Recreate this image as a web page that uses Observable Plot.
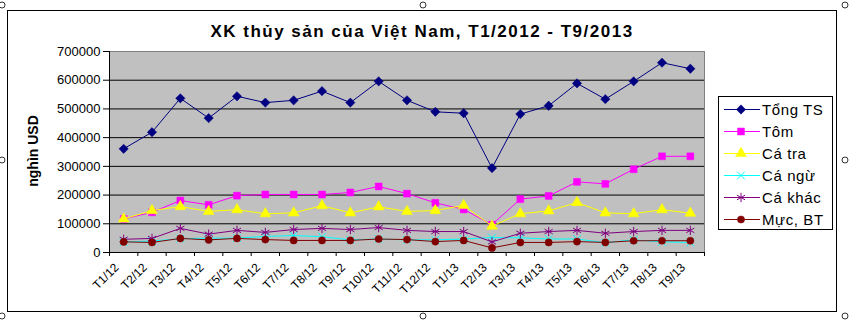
<!DOCTYPE html>
<html><head><meta charset="utf-8">
<script src="https://cdn.jsdelivr.net/npm/d3@7"></script>
<script src="https://cdn.jsdelivr.net/npm/@observablehq/plot@0.6"></script>
<style>
body{margin:0;background:#fff;}
#wrap{position:relative;width:863px;height:320px;overflow:hidden;font-family:Arial,"Liberation Sans",sans-serif;}
#wrap svg{position:absolute;left:0;top:0;}
</style></head><body><div id="wrap"></div>
<script>
const months = ["T1/12","T2/12","T3/12","T4/12","T5/12","T6/12","T7/12","T8/12","T9/12","T10/12","T11/12","T12/12",
  "T1/13","T2/13","T3/13","T4/13","T5/13","T6/13","T7/13","T8/13","T9/13"];
const yTicks = [0,100000,200000,300000,400000,500000,600000,700000];
const seriesNames = ["Tổng TS","Tôm","Cá tra","Cá ngừ","Cá khác","Mực, BT"];
const tongTS = [361000,419000,537000,468000,544000,522000,530000,562000,522000,596000,530000,490000,485000,294000,482000,511000,589000,534000,596000,661000,640000];
const tom    = [117000,140000,181000,166000,198000,202000,202000,202000,209000,230000,205000,173000,150000,97000,186000,197000,246000,239000,290000,335000,335000];
const caTra  = [117000,146000,160000,143000,149000,135000,138000,163000,138000,159000,143000,146000,164000,92000,135000,145000,174000,138000,135000,149000,137000];
const caNgu  = [36000,40000,48000,50000,50000,56000,59000,55000,44000,47000,44000,44000,47000,52000,51000,47000,47000,34000,44000,37000,35000];
const caKhac = [46000,49000,84000,64000,77000,70000,80000,84000,80000,87000,77000,73000,73000,37000,67000,73000,77000,67000,73000,77000,77000];
const mucBT  = [37000,35000,49000,44000,49000,45000,42000,42000,42000,47000,45000,38000,42000,16000,35000,35000,38000,35000,41000,41000,41000];
const title = "XK thủy sản của Việt Nam, T1/2012 - T9/2013";
const yLabel = "nghìn USD";

const styles = [
  {color:"#000080", symbol:"diamond2", fill:true, r:4.2},
  {color:"#FF00FF", symbol:"square", fill:true, r:3.9},
  {color:"#FFFF00", symbol:"triangle", fill:true, r:4.0},
  {color:"#00FFFF", symbol:"times", fill:false, r:3.6},
  {color:"#800080", symbol:"asterisk", fill:false, r:4.4},
  {color:"#800000", symbol:"circle", fill:true, r:3.6}
];
const values = [tongTS, tom, caTra, caNgu, caKhac, mucBT];
const series = seriesNames.map((name, k) => ({name, ...styles[k],
  data: values[k].map((v, i) => ({i, month: months[i], value: v}))}));

const font = "Arial, 'Liberation Sans', sans-serif";
const boundaries = d3.range(0, months.length + 1).map(i => i - 0.5);

const marks = [
  Plot.frame({fill: "#C0C0C0", stroke: "#808080"}),
  Plot.ruleY(yTicks.slice(1, -1), {stroke: "#000", strokeWidth: 1}),
  Plot.ruleX([-0.5], {stroke: "#000"}),
  Plot.ruleY([0], {stroke: "#000"}),
  Plot.axisY({ticks: yTicks, tickSize: 6, tickPadding: 3, tickFormat: d => String(d), fontSize: 13, stroke: "#000", fill: "#000", style: {letterSpacing: "0.7px"}}),
  Plot.axisX({ticks: boundaries, tickSize: 4, tickFormat: () => "", stroke: "#000"}),
  Plot.text(months, {x: (d, i) => i, y: 0, text: d => d, dx: -7, dy: 13, rotate: -45, textAnchor: "end", fontSize: 12, fill: "#000", style: {letterSpacing: "0.4px"}})
];
for (const s of series) {
  marks.push(Plot.line(s.data, {x: "i", y: "value", stroke: s.color, strokeWidth: 1}));
  marks.push(Plot.dot(s.data, {x: "i", y: "value", symbol: () => s.symbol, r: s.r,
    fill: s.fill ? s.color : "none", stroke: s.color, strokeWidth: s.fill ? 0.5 : 1}));
}

const chart = Plot.plot({
  width: 863, height: 320,
  marginLeft: 109, marginRight: 159, marginTop: 51, marginBottom: 68,
  style: {fontFamily: font, background: "transparent", overflow: "visible"},
  x: {domain: [-0.5, months.length - 0.5], axis: null, label: null},
  y: {domain: [0, 700000], axis: null, label: null},
  symbol: {type: "identity"},
  marks
});

const wrap = document.getElementById("wrap");
const ov = d3.create("svg").attr("width", 863).attr("height", 320).style("font-family", font);
ov.append("rect").attr("x", 7.5).attr("y", 10.5).attr("width", 829).attr("height", 301)
  .attr("fill", "#fff").attr("stroke", "#000");
wrap.appendChild(ov.node());
wrap.appendChild(chart);

const ov2 = d3.create("svg").attr("width", 863).attr("height", 320).style("font-family", font);
ov2.append("text").attr("x", 422).attr("y", 37).attr("text-anchor", "middle")
  .attr("font-weight", "bold").attr("font-size", 17).attr("letter-spacing", "1.5px").text(title);
ov2.append("text").attr("transform", "translate(38,151) rotate(-90)").attr("text-anchor", "middle")
  .attr("font-weight", "bold").attr("font-size", 14).text(yLabel);

const lg = ov2.append("g");
lg.append("rect").attr("x", 718.5).attr("y", 96.5).attr("width", 114).attr("height", 133)
  .attr("fill", "#fff").attr("stroke", "#000");
const symMap = {diamond2: d3.symbolDiamond2, square: d3.symbolSquare, triangle: d3.symbolTriangle,
  times: d3.symbolTimes, asterisk: d3.symbolAsterisk, circle: d3.symbolCircle};
series.forEach((s, k) => {
  const y = 109 + k * 22;
  lg.append("line").attr("x1", 724).attr("x2", 760).attr("y1", y + 0.5).attr("y2", y + 0.5).attr("stroke", s.color);
  lg.append("path").attr("transform", `translate(741,${y + 0.5})`)
    .attr("d", d3.symbol(symMap[s.symbol], Math.PI * s.r * s.r)())
    .attr("fill", s.fill ? s.color : "none").attr("stroke", s.color).attr("stroke-width", s.fill ? 0.5 : 1);
  lg.append("text").attr("x", 762).attr("y", y + 5.5).attr("font-size", 15).attr("letter-spacing", "0.6px").attr("fill", "#000").text(s.name);
});
const hx = [2, 423, 845], hy = [5, 160, 316];
for (const x of hx) for (const y of hy) {
  if (x === 423 && y === 160) continue;
  ov2.append("circle").attr("cx", x).attr("cy", y).attr("r", 3).attr("fill", "#fff").attr("stroke", "#000").attr("stroke-width", 0.8);
}
wrap.appendChild(ov2.node());
</script>
</body></html>
